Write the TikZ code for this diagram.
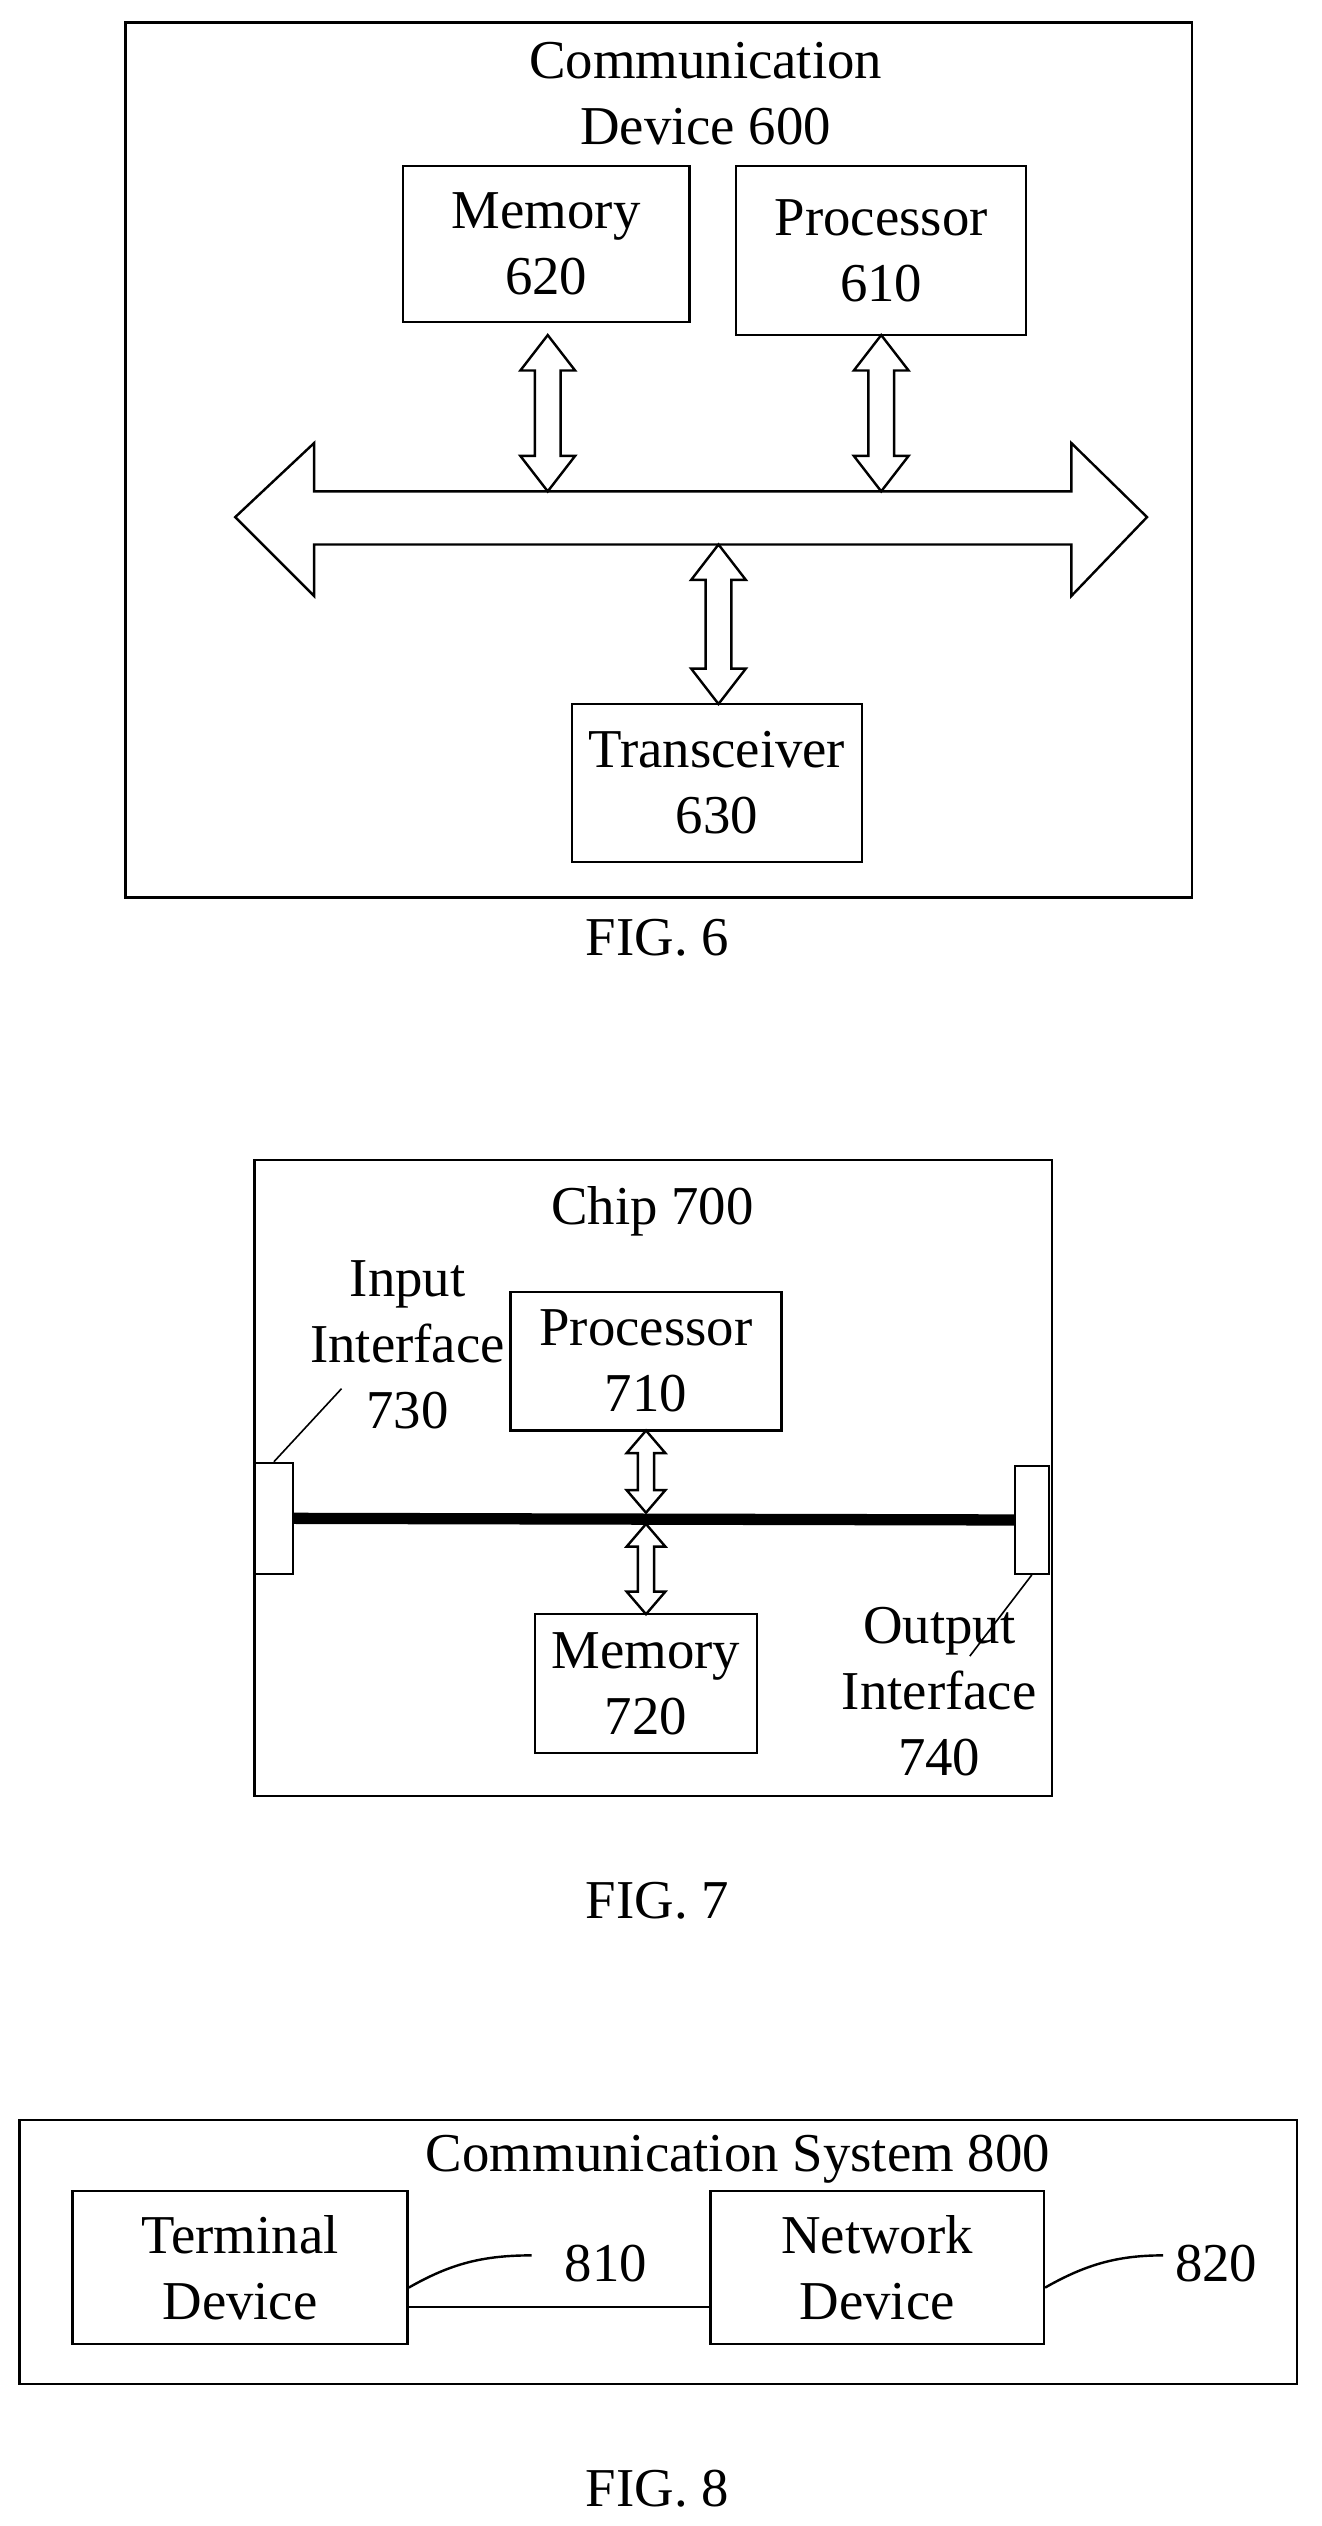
\documentclass[tikz,border=0pt]{standalone}
\usepackage{fontspec}
\setmainfont{Liberation Serif}
\tikzset{every picture/.style={line width=1.5pt}}
\tikzset{box/.style={draw,align=center,inner sep=0pt,font=\fontsize{34}{41}\selectfont},
  txt/.style={align=center,inner sep=0pt,font=\fontsize{34}{41}\selectfont}}
% vertical hollow double arrow: x, top y, bottom y, half width of shaft, half width of head, head length
\newcommand{\vdarr}[6]{\draw (#1,#2) -- (#1+#5,#2+#6) -- (#1+#4,#2+#6) -- (#1+#4,#3-#6) -- (#1+#5,#3-#6) -- (#1,#3) -- (#1-#5,#3-#6) -- (#1-#4,#3-#6) -- (#1-#4,#2+#6) -- (#1-#5,#2+#6) -- cycle;}

\begin{document}
\begin{tikzpicture}[x=1pt,y=1pt,yscale=-1,xscale=1]
\useasboundingbox (0,0) rectangle (820,1568);

%FIG. 6
\draw (78,14) rectangle (740,557);
\node[txt] (dev) at (438,58) {Communication\\Device 600};
\node[box,minimum width=178,minimum height=97] (mem6) at (339,151.5) {Memory\\620};
\node[box,minimum width=180,minimum height=105] (proc6) at (547,155.5) {Processor\\610};
\node[box,minimum width=180,minimum height=98] (trx6) at (445,486) {Transceiver\\630};
%bus
\draw (146,321) -- (195,275) -- (195,305) -- (665,305) -- (665,275) -- (712,321) -- (665,370) -- (665,338) -- (195,338) -- (195,370) -- cycle;
\vdarr{340}{208}{305}{8}{17}{22}
\vdarr{547}{208}{305}{8}{17}{22}
\vdarr{446}{338}{437}{8}{17}{22}
\node[txt] (fig6) at (408,582) {FIG. 6};

%FIG. 7
\draw (158,720) rectangle (653,1115);
\node[txt] (chip) at (405,752) {Chip 700};
\node[box,minimum width=168,minimum height=86] (proc7) at (401,845) {Processor\\710};
\node[box,minimum width=138,minimum height=86] (mem7) at (401,1045) {Memory\\720};
\node[box,minimum width=24,minimum height=69,line width=1.2pt] (in7) at (170,942.5) {};
\node[box,minimum width=21,minimum height=67,line width=1.2pt] (out7) at (640.5,943.5) {};
\draw[line width=7pt] (in7.east) -- (out7.west);
\vdarr{401}{888}{939}{5}{12}{14}
\vdarr{401}{946}{1002}{5}{12}{14}
\node[txt] (inlab) at (253,835) {Input\\Interface\\730};
\node[txt] (outlab) at (583,1050) {Output\\Interface\\740};
\draw[line width=1pt] (in7.north) -- (212,862);
\draw[line width=1pt] (out7.south) -- (602,1028);
\node[txt] (fig7) at (408,1180) {FIG. 7};

%FIG. 8
\draw (12,1316) rectangle (805,1480);
\node[txt] (sys) at (458,1340) {Communication System 800};
\node[box,minimum width=208,minimum height=95] (term) at (149,1407.5) {Terminal\\Device};
\node[box,minimum width=207,minimum height=95] (net) at (544.5,1407.5) {Network\\Device};
\draw (term.east |- 0,1432) -- (net.west |- 0,1432);
\node[txt] (l810) at (376,1405) {810};
\node[txt] (l820) at (755,1405) {820};
\draw (term.east |- 0,1420) .. controls (280,1405) and (300,1400) .. (330,1400);
\draw (net.east |- 0,1420) .. controls (675,1405) and (695,1400) .. (722,1400);
\node[txt] (fig8) at (408,1545) {FIG. 8};
\end{tikzpicture}
\end{document}
